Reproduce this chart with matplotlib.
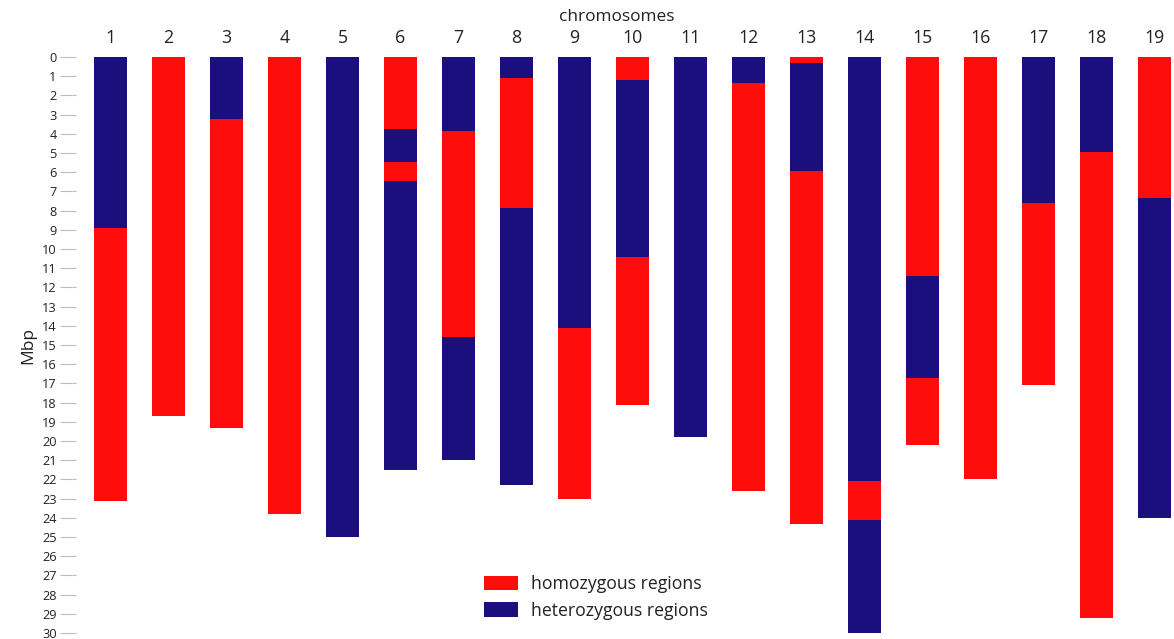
import matplotlib
matplotlib.use("Agg")
import matplotlib.pyplot as plt
from matplotlib.patches import Patch

plt.rcParams['font.family'] = ['Open Sans', 'DejaVu Sans']

chromosomes = [str(i) for i in range(1, 20)]
# Each chromosome: list of (type, end position in Mbp), starting from 0
# 'ho' = homozygous (red), 'he' = heterozygous (blue)
segments = [
    [('he', 8.9), ('ho', 23.1)],
    [('ho', 18.7)],
    [('he', 3.25), ('ho', 19.3)],
    [('ho', 23.8)],
    [('he', 25.0)],
    [('ho', 3.75), ('he', 5.45), ('ho', 6.45), ('he', 21.5)],
    [('he', 3.85), ('ho', 14.6), ('he', 21.0)],
    [('he', 1.08), ('ho', 7.85), ('he', 22.3)],
    [('he', 14.1), ('ho', 23.0)],
    [('ho', 1.18), ('he', 10.4), ('ho', 18.1)],
    [('he', 19.8)],
    [('he', 1.35), ('ho', 22.6)],
    [('ho', 0.3), ('he', 5.95), ('ho', 24.3)],
    [('he', 22.1), ('ho', 24.1), ('he', 30.0)],
    [('ho', 11.4), ('he', 16.7), ('ho', 20.2)],
    [('ho', 22.0)],
    [('he', 7.6), ('ho', 17.1)],
    [('he', 4.95), ('ho', 29.2)],
    [('ho', 7.33), ('he', 24.0)],
]
y_ticks = list(range(0, 31))
colors = {'ho': '#FF0D0D', 'he': '#1B0F7E'}
labels = {'ho': 'homozygous regions', 'he': 'heterozygous regions'}

W, H = 1174, 639
fig = plt.figure(figsize=(W / 100, H / 100), dpi=100)
ax = fig.add_axes([76 / W, (H - 633) / H, (1174 - 76) / W, (633 - 57) / H])

bar_w = 0.57
for i, segs in enumerate(segments):
    start = 0.0
    for kind, end in segs:
        ax.bar(i, end - start, bottom=start, width=bar_w, color=colors[kind],
               edgecolor='none', linewidth=0)
        start = end

ax.set_xlim(-0.595, 18.336)
ax.set_ylim(30, 0)

for s in ax.spines.values():
    s.set_visible(False)

ax.set_yticks(y_ticks)
ax.set_yticklabels([str(t) for t in y_ticks])
ax.tick_params(axis='y', direction='out', length=11.5, width=0.8,
               color='#BDBDBD', pad=2.5, labelsize=9.2, labelcolor='#222222')

ax.set_xticks(range(len(chromosomes)))
ax.set_xticklabels(chromosomes)
ax.xaxis.tick_top()
ax.tick_params(axis='x', length=0, pad=7, labelsize=12.8, labelcolor='#222222')

ax.set_ylabel('Mbp', fontsize=12.5, color='#222222', labelpad=4)
fig.text(617 / W, 1 - 17 / H, 'chromosomes', ha='center', va='center',
         fontsize=12.4, color='#222222')

handles = [Patch(facecolor=colors['ho'], edgecolor='none', label=labels['ho']),
           Patch(facecolor=colors['he'], edgecolor='none', label=labels['he'])]
ax.legend(handles=handles, loc='upper left',
          bbox_to_anchor=(484 / W, 1 - 575 / H), bbox_transform=fig.transFigure,
          frameon=False, fontsize=12.7, handlelength=1.9, handleheight=0.9,
          handletextpad=0.75, labelspacing=0.5, borderpad=0, borderaxespad=0,
          labelcolor='#222222')

fig.savefig('out.png', dpi=100, facecolor='white')
